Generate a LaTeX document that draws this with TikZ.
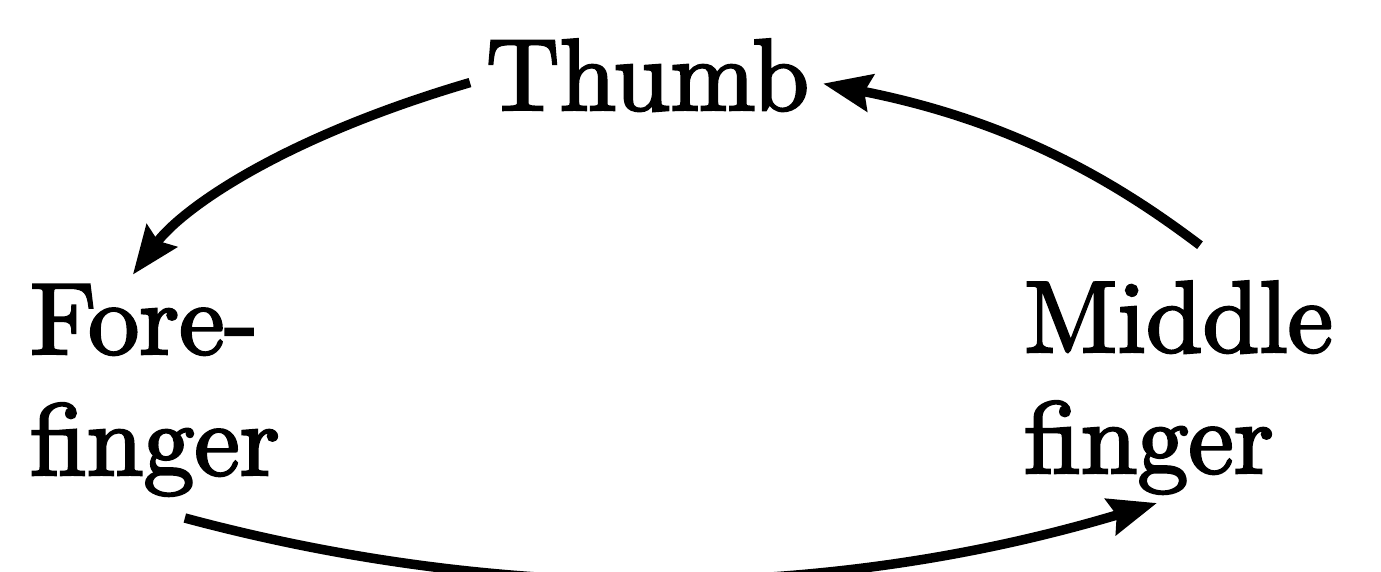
\documentclass[tikz,border=0pt]{standalone}
\usetikzlibrary{arrows.meta}
\font\handfont="[lmroman10-regular]:mapping=tex-text;embolden=2.5" at 102pt
\begin{document}
\begin{tikzpicture}[x=1pt,y=-1pt,
  label/.style={font={\handfont\baselineskip=121pt}, inner sep=0pt, outer sep=0pt, align=left},
  link/.style={line width=9.5pt, -{Stealth[length=48pt,width=37pt,inset=6pt]}}]
\useasboundingbox (0,0) rectangle (1381,572);
\node[label, anchor=base west] (thumb) at (486,110) {Thumb};
\node[label, anchor=base west] (fore) at (30,475) {Fore-\\finger};
\node[label, anchor=base west] (middle) at (1024,473) {Middle\\finger};
\draw[link] ([shift={(-16,7.4)}]thumb.west) .. controls (278,139) and (181,210) .. ([shift={(-22,-10)}]fore.north);
\draw[link] ([shift={(21.5,-36)}]middle.north) .. controls (1128,191) and (1024,123) .. ([shift={(14,8.4)}]thumb.east);
\draw[link] ([shift={(30,22)}]fore.south) .. controls (509,605) and (833,600) .. ([shift={(-21.5,9)}]middle.south);
\end{tikzpicture}
\end{document}
